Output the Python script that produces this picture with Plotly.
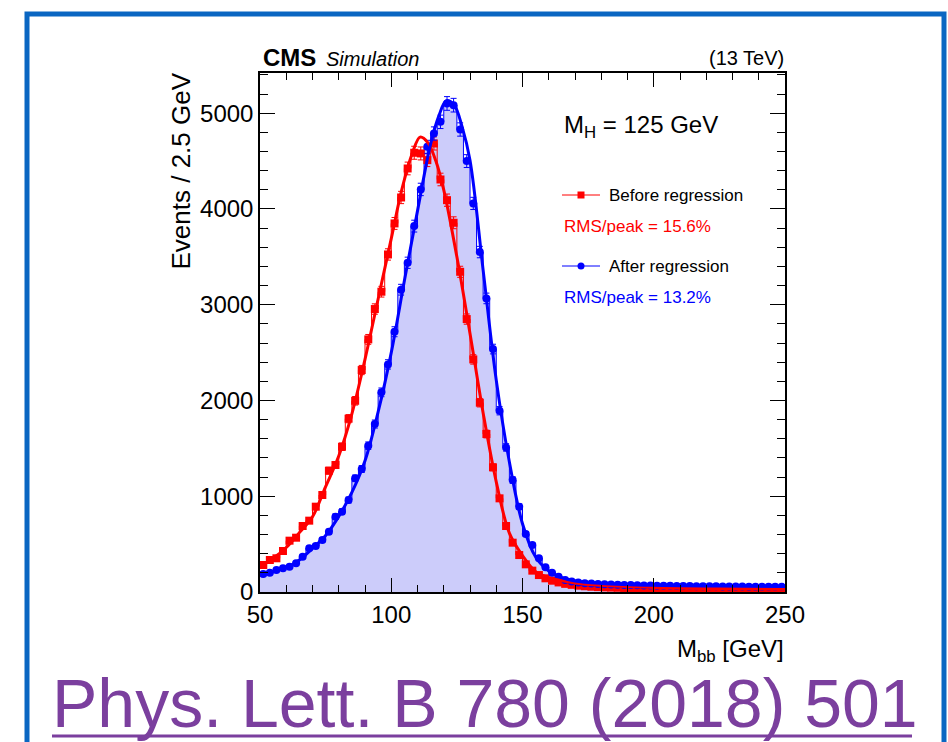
import plotly.graph_objects as go

# ---------------- data ----------------
bin_edges_lo = 50.0
bin_width = 2.5
n_bins = 80
bin_centers = [bin_edges_lo + bin_width * (i + 0.5) for i in range(n_bins)]

before_counts = [
    282, 334, 352, 428, 536, 567, 689, 745, 891, 1013, 1267, 1326, 1517, 1810, 1997, 2318, 2638, 2955, 3136,
    3525, 3849, 4120, 4423, 4587, 4580, 4510, 4684, 4308, 4092, 3856, 3344,
    2850, 2429, 1977, 1650, 1302, 978, 689, 515, 386, 289, 223, 177, 143,
    118, 100, 85, 75, 66, 60, 55, 51, 48, 46, 44, 42, 41, 40, 39, 38, 37, 37, 36, 36,
    35, 35, 34, 34, 33, 33, 33, 32, 32, 32, 31, 31, 31, 30, 30, 30,
]
after_counts = [
    188, 202, 230, 247, 264, 299, 369, 456, 480, 543, 630, 787, 839, 960, 1187, 1284, 1528, 1754, 2085, 2377, 2718, 3157,
    3438, 3821, 4204, 4649, 4788, 4910, 5102, 5084, 4830, 4500, 4058,
    3550, 3066, 2537, 1893, 1510, 1169, 891, 605, 491, 352, 258,
    202, 160, 125, 110, 100, 92, 88, 84, 80, 78, 76, 74, 72, 70, 68, 67, 66, 65, 64, 63,
    62, 62, 61, 60, 60, 59, 58, 58, 57, 57, 56, 56, 55, 55, 54, 54,
]

before_fit_x = [50, 55, 60, 65, 70, 75, 80, 85, 90, 95, 100, 104, 108, 111, 114, 117, 120, 125, 130, 135,
                140, 145, 150, 155, 160, 170, 180, 200, 225, 250]
before_fit_y = [265, 352, 465, 620, 786, 1100, 1420, 1860, 2430, 3060, 3690, 4200, 4580, 4750, 4690, 4500,
                4200, 3500, 2700, 1870, 1150, 615, 380, 212, 150, 95, 70, 48, 36, 30]

after_fit_x = [50, 55, 60, 65, 70, 75, 80, 85, 90, 95, 100, 105, 110, 115, 118, 121, 124, 127, 130, 135,
               140, 145, 150, 155, 160, 165, 170, 180, 200, 225, 250]
after_fit_y = [178, 212, 256, 335, 456, 590, 790, 1040, 1370, 1880, 2500, 3250, 3980, 4680, 4962, 5130,
               5084, 4858, 4510, 3362, 2213, 1357, 713, 365, 219, 150, 115, 90, 70, 62, 58]

x_ticks = [50, 100, 150, 200, 250]
y_ticks = [0, 1000, 2000, 3000, 4000, 5000]

RED = "#ff0000"
BLUE = "#0000ff"
FILL = "rgb(204,204,250)"
FONT = "Liberation Sans"

# ---------------- figure geometry ----------------
W, H = 948, 742
PL, PR, PT, PB = 260, 785, 73, 592  # plot area in pixels


def px(xp):
    return (xp - PL) / (PR - PL)


def py(yp):
    return (PB - yp) / (PB - PT)


fig = go.Figure()

# filled "after" histogram
fig.add_trace(go.Bar(x=bin_centers, y=after_counts, width=bin_width,
                     marker=dict(color=FILL, line=dict(width=0)), showlegend=False, hoverinfo="skip"))

# step outlines
fig.add_trace(go.Scatter(x=bin_centers, y=after_counts, mode="lines", line=dict(color=BLUE, width=1, shape="hvh"),
                         showlegend=False, hoverinfo="skip"))
fig.add_trace(go.Scatter(x=bin_centers, y=before_counts, mode="lines", line=dict(color=RED, width=1, shape="hvh"),
                         showlegend=False, hoverinfo="skip"))

# markers with error bars
fig.add_trace(go.Scatter(x=bin_centers, y=before_counts, mode="markers",
                         marker=dict(symbol="square", size=8, color=RED),
                         error_y=dict(type="sqrt", color=RED, thickness=1, width=3),
                         name="Before regression", showlegend=False))
fig.add_trace(go.Scatter(x=bin_centers, y=after_counts, mode="markers",
                         marker=dict(symbol="circle", size=8, color=BLUE),
                         error_y=dict(type="sqrt", color=BLUE, thickness=1, width=3),
                         name="After regression", showlegend=False))

# fitted curves
fig.add_trace(go.Scatter(x=before_fit_x, y=before_fit_y, mode="lines",
                         line=dict(color=RED, width=3, shape="spline", smoothing=1.0),
                         showlegend=False, hoverinfo="skip"))
fig.add_trace(go.Scatter(x=after_fit_x, y=after_fit_y, mode="lines",
                         line=dict(color=BLUE, width=3, shape="spline", smoothing=1.0),
                         showlegend=False, hoverinfo="skip"))

axis_common = dict(showline=True, linecolor="black", linewidth=1.5, mirror="allticks", ticks="inside",
                   tickcolor="black", tickwidth=1, showgrid=False, zeroline=False,
                   tickfont=dict(family=FONT, size=24, color="black"))

fig.update_xaxes(range=[50, 250], tickvals=x_ticks, ticklen=14,
                 minor=dict(dtick=10, ticks="inside", ticklen=7, tickcolor="black", tickwidth=1),
                 **axis_common)
fig.update_yaxes(range=[0, 5420], tickvals=y_ticks, ticklen=15,
                 minor=dict(dtick=200, ticks="inside", ticklen=8, tickcolor="black", tickwidth=1),
                 **axis_common)

ann = []


def add_text(text, xp, yp, size, color="black", xanchor="left", yanchor="middle", angle=0, family=FONT):
    ann.append(dict(text=text, x=px(xp), y=py(yp), xref="paper", yref="paper", xanchor=xanchor,
                    yanchor=yanchor, showarrow=False, textangle=angle,
                    font=dict(family=family, size=size, color=color)))


add_text("<b>CMS</b>", 261, 58, 24)
add_text("<i>Simulation</i>", 324, 59, 20)
add_text("(13 TeV)", 786, 58, 20, xanchor="right")
add_text("M<sub>H</sub> = 125 GeV", 562, 126, 24)
add_text("Before regression", 607, 195, 17)
add_text("RMS/peak = 15.6%", 562, 226, 17, color=RED)
add_text("After regression", 607, 266, 17)
add_text("RMS/peak = 13.2%", 562, 297, 17, color=BLUE)
add_text("Events / 2.5 GeV", 180, 71, 26, yanchor="top", xanchor="center", angle=-90)
add_text("M<sub>bb</sub> [GeV]", 786, 650, 24, xanchor="right")
add_text("Phys. Lett. B 780 (2018) 501", 50, 703, 68, color="#7b3f9e")

shapes = []
# legend symbols
shapes.append(dict(type="line", xref="paper", yref="paper", x0=px(562), x1=px(600), y0=py(195), y1=py(195),
                   line=dict(color=RED, width=1)))
shapes.append(dict(type="rect", xref="paper", yref="paper", x0=px(577.5), x1=px(584.5), y0=py(198.5), y1=py(191.5),
                   line=dict(color=RED, width=0), fillcolor=RED))
shapes.append(dict(type="line", xref="paper", yref="paper", x0=px(562), x1=px(600), y0=py(266), y1=py(266),
                   line=dict(color=BLUE, width=1)))
shapes.append(dict(type="circle", xref="paper", yref="paper", x0=px(577.5), x1=px(584.5), y0=py(269.5), y1=py(262.5),
                   line=dict(color=BLUE, width=0), fillcolor=BLUE))
# underline of the reference link
shapes.append(dict(type="line", xref="paper", yref="paper", x0=px(52), x1=px(912), y0=py(736), y1=py(736),
                   line=dict(color="#7b3f9e", width=3)))
# slide frame
shapes.append(dict(type="rect", xref="paper", yref="paper", x0=px(27), x1=px(944), y0=py(14), y1=py(780),
                   line=dict(color="#0a66c2", width=5), fillcolor="rgba(0,0,0,0)", layer="below"))

fig.update_layout(width=W, height=H, autosize=False,
                  margin=dict(l=PL, r=W - PR, t=PT, b=H - PB, pad=0),
                  paper_bgcolor="white", plot_bgcolor="white",
                  bargap=0, showlegend=False,
                  annotations=ann, shapes=shapes,
                  font=dict(family=FONT))

fig.write_html("out.html")
